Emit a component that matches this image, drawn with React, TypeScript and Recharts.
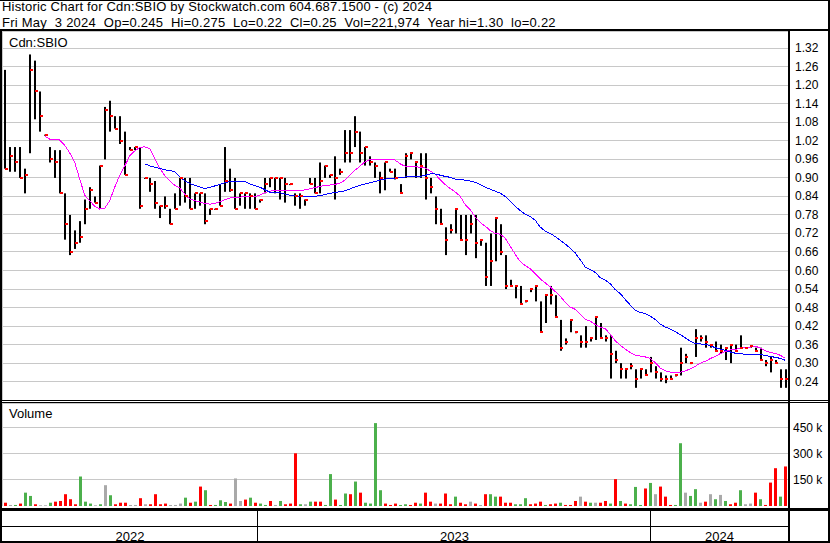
import React from 'react';
import { ComposedChart, Bar, Line, Scatter, XAxis, YAxis, CartesianGrid } from 'recharts';

// Cdn:SBIO, May 2022 - May 2024, one entry per ~3 trading days
const HI = [
  1.25, 1.00, 1.00, 1.00, 0.93, 1.30, 1.28, 1.18, 1.04, 1.00,
  0.99, 0.99, 0.85, 0.78, 0.73, 0.76, 0.83, 0.87, 0.84, 0.94,
  1.13, 1.15, 1.10, 1.10, 1.05, 1.00, 1.00, 1.00, 0.90, 0.90,
  0.89, 0.81, 0.84, 0.80, 0.85, 0.90, 0.90, 0.90, 0.85, 0.85,
  0.85, 0.80, 0.80, 0.88, 1.00, 0.93, 0.90, 0.85, 0.85, 0.85,
  0.85, 0.83, 0.90, 0.90, 0.90, 0.90, 0.90, 0.88, 0.85, 0.85,
  0.83, 0.90, 0.90, 0.95, 0.94, 0.91, 0.97, 0.93, 1.055, 1.055,
  1.10, 1.05, 1.00, 0.97, 0.95, 0.92, 0.95, 0.93, 0.93, 0.88,
  0.98, 0.98, 0.95, 0.98, 0.98, 0.90, 0.84, 0.80, 0.74, 0.75,
  0.80, 0.78, 0.78, 0.78, 0.78, 0.70, 0.69, 0.72, 0.77, 0.75,
  0.65, 0.57, 0.55, 0.55, 0.50, 0.54, 0.55, 0.50, 0.52, 0.55,
  0.52, 0.44, 0.38, 0.44, 0.40, 0.39, 0.42, 0.38, 0.45, 0.43,
  0.39, 0.39, 0.34, 0.30, 0.28, 0.30, 0.28, 0.28, 0.28, 0.32,
  0.29, 0.27, 0.26, 0.26, 0.26, 0.35, 0.33, 0.30, 0.41, 0.39,
  0.39, 0.36, 0.37, 0.36, 0.35, 0.36, 0.36, 0.39, 0.35, 0.355,
  0.35, 0.35, 0.31, 0.32, 0.31, 0.28, 0.28,
];

const LO = [
  0.93, 0.92, 0.92, 0.90, 0.85, 0.98, 1.09, 1.05, 1.04, 0.95,
  0.90, 0.85, 0.70, 0.65, 0.67, 0.69, 0.75, 0.80, 0.82, 0.80,
  0.96, 1.05, 1.06, 1.01, 0.91, 0.99, 0.99, 0.80, 0.90, 0.855,
  0.80, 0.77, 0.80, 0.75, 0.80, 0.81, 0.82, 0.80, 0.80, 0.81,
  0.75, 0.78, 0.80, 0.81, 0.855, 0.855, 0.80, 0.81, 0.80, 0.80,
  0.80, 0.82, 0.85, 0.87, 0.85, 0.83, 0.82, 0.88, 0.81, 0.80,
  0.81, 0.88, 0.85, 0.85, 0.90, 0.90, 0.83, 0.91, 0.95, 0.95,
  1.00, 0.95, 0.94, 0.94, 0.90, 0.85, 0.86, 0.92, 0.895, 0.85,
  0.90, 0.96, 0.90, 0.90, 0.83, 0.85, 0.75, 0.75, 0.65, 0.72,
  0.72, 0.70, 0.65, 0.72, 0.64, 0.68, 0.55, 0.55, 0.63, 0.65,
  0.54, 0.55, 0.51, 0.49, 0.50, 0.53, 0.50, 0.40, 0.43, 0.49,
  0.45, 0.34, 0.36, 0.40, 0.40, 0.35, 0.35, 0.37, 0.375, 0.38,
  0.37, 0.25, 0.30, 0.25, 0.25, 0.28, 0.22, 0.25, 0.26, 0.27,
  0.25, 0.24, 0.235, 0.25, 0.26, 0.26, 0.30, 0.30, 0.32, 0.37,
  0.35, 0.35, 0.34, 0.33, 0.31, 0.30, 0.34, 0.35, 0.35, 0.35,
  0.34, 0.31, 0.29, 0.27, 0.30, 0.22, 0.22,
];

const CL = [
  0.93, 0.97, 0.95, 0.90, 0.91, 1.25, 1.18, 1.10, 1.04, 0.96,
  0.95, 0.85, 0.75, 0.66, 0.69, 0.71, 0.80, 0.86, 0.82, 0.94,
  1.12, 1.10, 1.06, 1.02, 0.91, 0.99, 1.00, 0.81, 0.90, 0.88,
  0.82, 0.81, 0.81, 0.75, 0.80, 0.90, 0.84, 0.80, 0.85, 0.85,
  0.76, 0.80, 0.80, 0.81, 0.89, 0.86, 0.80, 0.85, 0.85, 0.84,
  0.80, 0.83, 0.88, 0.90, 0.90, 0.90, 0.88, 0.88, 0.84, 0.84,
  0.83, 0.88, 0.85, 0.89, 0.94, 0.91, 0.90, 0.92, 0.98, 0.98,
  1.05, 0.98, 1.00, 0.95, 0.94, 0.90, 0.95, 0.92, 0.90, 0.85,
  0.97, 0.98, 0.95, 0.94, 0.90, 0.87, 0.80, 0.75, 0.70, 0.73,
  0.80, 0.70, 0.70, 0.75, 0.69, 0.70, 0.58, 0.63, 0.77, 0.66,
  0.55, 0.55, 0.55, 0.49, 0.50, 0.54, 0.55, 0.40, 0.52, 0.52,
  0.45, 0.35, 0.37, 0.44, 0.40, 0.37, 0.37, 0.38, 0.45, 0.38,
  0.38, 0.33, 0.31, 0.28, 0.28, 0.29, 0.25, 0.28, 0.26, 0.30,
  0.27, 0.25, 0.25, 0.25, 0.26, 0.30, 0.32, 0.30, 0.38, 0.38,
  0.37, 0.36, 0.34, 0.34, 0.35, 0.36, 0.34, 0.35, 0.35, 0.355,
  0.34, 0.31, 0.30, 0.31, 0.30, 0.25, 0.25,
];

// short moving average (magenta)
const MA_SHORT = [
  null, null, null, null, null, null, null, null,
  1.036, 1.026, 1.026, 1.023, 1.006, 0.982, 0.952, 0.898, 0.844, 0.826, 0.809, 0.799,
  0.801, 0.826, 0.869, 0.908, 0.938, 0.971, 0.987, 0.999, 1.001, 0.995,
  0.963, 0.931, 0.908, 0.890, 0.876, 0.868, 0.847, 0.832, 0.826, 0.822,
  0.817, 0.815, 0.817, 0.823, 0.829, 0.835, 0.837, 0.838, 0.839, 0.839,
  0.839, 0.844, 0.852, 0.857, 0.861, 0.859, 0.858, 0.861, 0.859, 0.859,
  0.861, 0.865, 0.869, 0.872, 0.876, 0.877, 0.879, 0.883, 0.893, 0.909,
  0.925, 0.938, 0.952, 0.960, 0.960, 0.960, 0.960, 0.960, 0.958, 0.946,
  0.938, 0.937, 0.936, 0.935, 0.932, 0.923, 0.912, 0.895, 0.879, 0.866,
  0.855, 0.841, 0.814, 0.798, 0.774, 0.756, 0.744, 0.730, 0.720, 0.718,
  0.705, 0.679, 0.653, 0.629, 0.616, 0.606, 0.590, 0.573, 0.560, 0.547,
  0.532, 0.517, 0.497, 0.482, 0.474, 0.458, 0.442, 0.436, 0.425, 0.417,
  0.411, 0.394, 0.372, 0.358, 0.345, 0.334, 0.326, 0.323, 0.320, 0.315,
  0.301, 0.284, 0.275, 0.271, 0.271, 0.271, 0.275, 0.281, 0.290, 0.300,
  0.306, 0.315, 0.322, 0.331, 0.338, 0.343, 0.345, 0.348, 0.350, 0.352,
  0.355, 0.348, 0.340, 0.334, 0.331, 0.325, 0.315,
];

// long moving average (blue)
const MA_LONG = [
  null, null, null, null, null, null, null, null, null, null,
  null, null, null, null, null, null, null, null, null, null,
  null, null, null, null, null, null, null, null,
  0.946, 0.939, 0.935, 0.931, 0.926, 0.924, 0.920, 0.904, 0.891, 0.882, 0.876, 0.871,
  0.866, 0.869, 0.874, 0.879, 0.884, 0.889, 0.890, 0.890, 0.888, 0.881,
  0.875, 0.870, 0.862, 0.854, 0.853, 0.852, 0.848, 0.844, 0.842, 0.841,
  0.841, 0.839, 0.840, 0.843, 0.846, 0.850, 0.853, 0.855, 0.858, 0.864,
  0.871, 0.876, 0.880, 0.884, 0.888, 0.893, 0.896, 0.898, 0.898, 0.902,
  0.903, 0.904, 0.905, 0.905, 0.908, 0.913, 0.913, 0.909, 0.905, 0.902,
  0.896, 0.894, 0.893, 0.890, 0.886, 0.878, 0.870, 0.864, 0.857, 0.851,
  0.840, 0.825, 0.809, 0.794, 0.783, 0.775, 0.763, 0.741, 0.728, 0.720,
  0.710, 0.698, 0.686, 0.672, 0.657, 0.635, 0.611, 0.603, 0.594, 0.577,
  0.569, 0.557, 0.538, 0.525, 0.506, 0.488, 0.471, 0.464, 0.461, 0.452,
  0.441, 0.426, 0.417, 0.410, 0.402, 0.392, 0.382, 0.371, 0.363, 0.362,
  0.361, 0.356, 0.350, 0.345, 0.341, 0.336, 0.332, 0.330, 0.329, 0.329,
  0.329, 0.328, 0.325, 0.321, 0.319, 0.315, 0.309,
];

// volume in thousands
const VOL_K = [
  19, 6, 6, 14, 77, 58, 10, 4, 4, 19,
  25, 29, 68, 39, 10, 170, 25, 14, 4, 10,
  120, 62, 10, 19, 19, 6, 6, 45, 10, 10,
  68, 10, 14, 6, 6, 14, 48, 19, 25, 112,
  91, 6, 6, 33, 23, 14, 159, 29, 37, 48,
  19, 14, 6, 29, 6, 29, 10, 14, 304, 10,
  10, 25, 25, 25, 6, 184, 37, 6, 72, 68,
  141, 77, 19, 14, 478, 91, 14, 6, 14, 6,
  10, 6, 19, 14, 77, 25, 14, 14, 72, 10,
  54, 19, 10, 25, 14, 6, 68, 68, 54, 54,
  19, 19, 10, 10, 45, 10, 14, 25, 6, 10,
  14, 19, 6, 6, 29, 54, 25, 19, 19, 19,
  29, 14, 155, 29, 14, 10, 110, 6, 101, 133,
  68, 112, 54, 6, 6, 362, 77, 58, 97, 19,
  25, 68, 39, 64, 29, 10, 19, 91, 10, 14,
  77, 39, 6, 135, 218, 54, 228,
];

// u = up, d = down, n = unchanged
const DIR =
  'dnuduudnnu' + 'ddddduuunu' + 'nudddnndnd' + 'dddnnnudud' + 'uduuudnndu' +
  'duudnudddu' + 'nudduuduud' + 'uduuuudddu' + 'udduddnddd' + 'uddndnduud' +
  'dduuudddud' + 'dudddndund' + 'dududuuudu' + 'nddduunuun' + 'dnunuddunn' +
  'dudddud';

const PRICE_TICKS = [0.24, 0.30, 0.36, 0.42, 0.48, 0.54, 0.60, 0.66, 0.72, 0.78, 0.84, 0.90, 0.96, 1.02, 1.08, 1.14, 1.20, 1.26, 1.32];
const VOL_TICKS = [150, 300, 450];
// first trading day of each month, in bar units
const MONTH_STARTS = [5.19, 11.99, 18.18, 25.17, 31.56, 38.15, 44.95, 51.14, 57.93, 64.12, 70.52, 76.91, 83.9, 90.09, 96.88, 103.68, 109.87, 116.66, 123.45, 129.64, 136.44, 143.03, 149.42, 155.81];
const YEARS = ['2022', '2023', '2024'];
const YEAR_STARTS = [0, 51.14, 129.64];

const TITLE = 'Historic Chart for Cdn:SBIO by Stockwatch.com 604.687.1500 - (c) 2024';
const SUBTITLE = 'Fri May  3 2024  Op=0.245  Hi=0.275  Lo=0.22  Cl=0.25  Vol=221,974  Year hi=1.30  lo=0.22';

const FONT = '"Liberation Sans", Arial, Helvetica, sans-serif';
const N = CL.length;
const PLOT_L = 2;
const PLOT_W = 786;
const BAND = PLOT_W / N;
const VOL_COLORS: Record<string, string> = { u: '#4cb04c', d: '#ff0000', n: '#a9a9a9' };

const rows = CL.map((c, i) => ({
  x: i + 0.5,
  range: [LO[i], HI[i]],
  cl: c,
  maS: MA_SHORT[i],
  maL: MA_LONG[i],
  vol: VOL_K[i],
  dir: DIR[i],
}));

const HiLo = (p: any) => {
  const { x, y, width, height } = p;
  if (![x, y, width, height].every(Number.isFinite)) return null;
  const top = Math.min(y, y + height);
  const cx = Math.round(x + width / 2);
  return <rect x={cx - 1} y={top} width={2} height={Math.max(Math.abs(height), 1)} fill="#000" />;
};

const CloseMark = (p: any) => {
  const { cx, cy } = p;
  if (!Number.isFinite(cx) || !Number.isFinite(cy)) return null;
  return <rect x={Math.round(cx)} y={Math.round(cy) - 1} width={3} height={2} fill="#ff0000" />;
};

const VolBar = (p: any) => {
  const { x, y, width, height, index } = p;
  if (![x, y, width, height].every(Number.isFinite)) return null;
  const cx = Math.round(x + width / 2);
  return <rect x={cx - 1} y={y} width={3} height={height + 2} fill={VOL_COLORS[DIR[index]]} />;
};

const PriceTick = (p: any) => (
  <text x={p.x + 7} y={p.y + 4} fontSize={12} fontFamily={FONT} fill="#000">
    {Number(p.payload.value).toFixed(2)}
  </text>
);

const VolTick = (p: any) => (
  <text x={p.x + 5} y={p.y + 4} fontSize={12} fontFamily={FONT} fill="#000">
    {`${p.payload.value} k`}
  </text>
);

const box = (left: number, top: number, width: number, height: number, bg = '#000') => (
  <div style={{ position: 'absolute', left, top, width, height, background: bg }} />
);

export default function App() {
  const xAxis = (
    <XAxis
      type="number"
      dataKey="x"
      domain={[0, N]}
      allowDataOverflow
      ticks={MONTH_STARTS}
      interval={0}
      height={0}
      tick={false}
      axisLine={false}
      tickLine={false}
    />
  );

  return (
    <div style={{ position: 'absolute', left: 0, top: 0, width: 830, height: 543, background: '#fff', overflow: 'hidden', fontFamily: FONT, color: '#000' }}>
      <div style={{ position: 'absolute', left: 2, top: 0, fontSize: 13, lineHeight: '13px', whiteSpace: 'pre', letterSpacing: 0.18 }}>{TITLE}</div>
      <div style={{ position: 'absolute', left: 2, top: 16, fontSize: 13, lineHeight: '13px', whiteSpace: 'pre', letterSpacing: 0.25 }}>{SUBTITLE}</div>

      <div style={{ position: 'absolute', left: PLOT_L, top: 31 }}>
        <ComposedChart width={828} height={369} data={rows} margin={{ top: 0, right: 0, bottom: 0, left: 0 }}>
          <CartesianGrid stroke="#c8c8c8" strokeWidth={1} shapeRendering="crispEdges" />
          {xAxis}
          <YAxis
            orientation="right"
            width={42}
            type="number"
            domain={[0.1805, 1.376]}
            allowDataOverflow
            ticks={PRICE_TICKS}
            interval={0}
            axisLine={false}
            tickLine={false}
            tickSize={0}
            tickMargin={0}
            tick={PriceTick}
          />
          <Bar dataKey="range" barSize={2} shape={HiLo} isAnimationActive={false} />
          <Scatter dataKey="cl" shape={CloseMark} isAnimationActive={false} />
          <Line dataKey="maS" type="linear" stroke="#ff00ff" strokeWidth={1} dot={false} activeDot={false} shapeRendering="crispEdges" isAnimationActive={false} />
          <Line dataKey="maL" type="linear" stroke="#0000ff" strokeWidth={1} dot={false} activeDot={false} shapeRendering="crispEdges" isAnimationActive={false} />
        </ComposedChart>
      </div>

      <div style={{ position: 'absolute', left: PLOT_L, top: 403 }}>
        <ComposedChart width={828} height={103} data={rows} margin={{ top: 0, right: 0, bottom: 0, left: 0 }}>
          <CartesianGrid stroke="#c8c8c8" strokeWidth={1} shapeRendering="crispEdges" />
          {xAxis}
          <YAxis
            orientation="right"
            width={42}
            type="number"
            domain={[0, 594]}
            allowDataOverflow
            ticks={VOL_TICKS}
            interval={0}
            axisLine={false}
            tickLine={false}
            tickSize={0}
            tickMargin={0}
            tick={VolTick}
          />
          <Bar dataKey="vol" barSize={3} shape={VolBar} isAnimationActive={false} />
        </ComposedChart>
      </div>

      <div style={{ position: 'absolute', left: 9, top: 36, fontSize: 13, lineHeight: '13px' }}>Cdn:SBIO</div>
      <div style={{ position: 'absolute', left: 9, top: 407, fontSize: 13, lineHeight: '13px' }}>Volume</div>

      {YEARS.map((yr, i) => {
        const a = PLOT_L + YEAR_STARTS[i] * BAND;
        const b = i + 1 < YEARS.length ? PLOT_L + YEAR_STARTS[i + 1] * BAND : PLOT_L + PLOT_W;
        return (
          <div key={yr} style={{ position: 'absolute', left: a, width: b - a, top: 530, fontSize: 13, lineHeight: '13px', textAlign: 'center' }}>
            {yr}
          </div>
        );
      })}
      {YEAR_STARTS.slice(1).map((s) => (
        <div key={s} style={{ position: 'absolute', left: Math.round(PLOT_L + s * BAND) - 1, top: 510, width: 1, height: 31, background: '#000' }} />
      ))}

      {box(0, 0, 830, 1)}
      {box(0, 29, 830, 2)}
      {box(0, 31, 2, 512)}
      {box(788, 31, 2, 512)}
      {box(828, 0, 2, 543)}
      {box(0, 400, 830, 1)}
      {box(0, 402, 830, 1)}
      {box(0, 508, 830, 3)}
      {box(0, 526, 790, 1)}
      {box(0, 541, 830, 2)}
    </div>
  );
}
